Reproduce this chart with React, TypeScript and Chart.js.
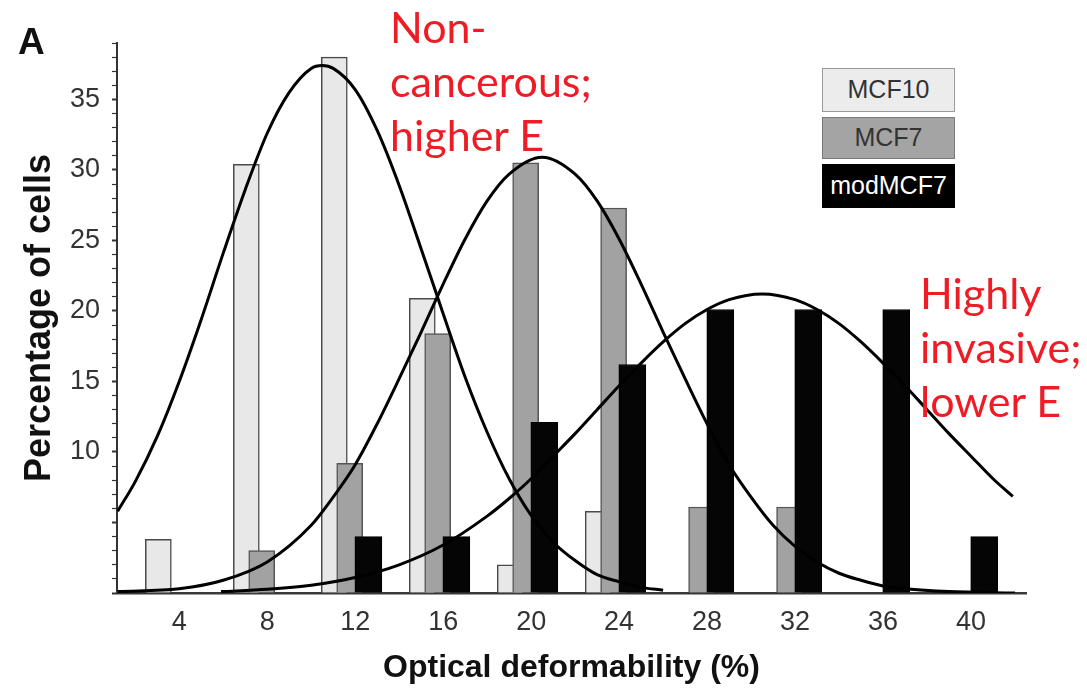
import React, { useEffect, useRef } from "react";
import { Chart, registerables } from "chart.js";

Chart.register(...registerables);

// ---------- data ----------
const BINS = [4, 8, 12, 16, 20, 24, 28, 32, 36, 40];
const MCF10 = [3.8, 30.4, 38.0, 20.9, 2.0, 5.8, null, null, null, null];
const MCF7 = [null, 3.0, 9.2, 18.4, 30.5, 27.3, 6.1, 6.1, null, null];
const MOD_MCF7 = [null, null, 4.0, 4.0, 12.1, 16.2, 20.1, 20.1, 20.1, 4.0];

const Y_TICK_LABELS = [10, 15, 20, 25, 30, 35];

// fitted curves
const FIT_MCF10_X = [1.2, 2, 3, 4, 5, 6, 7, 8, 9, 10, 10.5, 11, 12, 13, 14, 15, 16, 17, 18, 19, 20, 21, 22, 23, 24, 25, 26];
const FIT_MCF10_Y = [5.8, 7.9, 11.1, 15.0, 19.4, 24.1, 28.6, 32.6, 35.5, 37.2, 37.4, 37.2, 35.7, 32.8, 28.9, 24.4, 19.8, 15.3, 11.4, 8.1, 5.5, 3.6, 2.3, 1.3, 0.8, 0.4, 0.2];

const FIT_MCF7_X = [1.2, 4, 6, 8, 10, 11, 12, 13, 14, 15, 16, 17, 18, 19, 20.5, 22, 23, 24, 25, 26, 27, 28, 29, 30, 31, 32, 33, 34, 35, 36, 37, 39, 42];
const FIT_MCF7_Y = [0.1, 0.3, 0.9, 2.2, 4.8, 6.8, 9.1, 12.0, 15.2, 18.5, 21.9, 25.1, 27.8, 29.7, 30.9, 29.7, 27.8, 25.1, 21.9, 18.5, 15.2, 12.0, 9.1, 6.8, 4.8, 3.3, 2.2, 1.4, 0.9, 0.5, 0.3, 0.1, 0.0];

const FIT_MOD_X = [5.9, 8, 10, 12, 14, 16, 18, 19, 20, 21, 22, 23, 24, 25, 26, 27, 28, 29, 30.5, 32, 33, 34, 35, 36, 37, 38, 39, 40, 41, 41.9];
const FIT_MOD_Y = [0.1, 0.26, 0.55, 1.1, 2.0, 3.4, 5.45, 6.7, 8.1, 9.7, 11.3, 13.0, 14.7, 16.3, 17.8, 19.1, 20.1, 20.8, 21.2, 20.8, 20.1, 19.1, 17.8, 16.3, 14.7, 13.0, 11.3, 9.7, 8.1, 6.85];

// ---------- styling ----------
const SANS = '"Liberation Sans", Arial, Helvetica, sans-serif';
const RED_FONT = 'Lato, "Open Sans", sans-serif';
const RED = "#ee1c25";
// horizontal shift of each series inside its bin (axis units)
const OFFSET_MCF10 = -0.95;
const OFFSET_MCF7 = -0.25;
const OFFSET_MOD = 0.6;

function barPoints(values: (number | null)[], offset: number) {
  const pts: { x: number; y: number }[] = [];
  BINS.forEach((b, i) => {
    const v = values[i];
    if (v !== null && v !== undefined) pts.push({ x: b + offset, y: v });
  });
  return pts;
}

function curvePoints(xs: number[], ys: number[]) {
  return xs.map((x, i) => ({ x, y: ys[i] }));
}

export default function App() {
  const canvasRef = useRef<HTMLCanvasElement | null>(null);

  useEffect(() => {
    const canvas = canvasRef.current;
    if (!canvas) return;

    const curveStyle = {
      type: "line" as const,
      borderColor: "#000",
      borderWidth: 3,
      pointRadius: 0,
      fill: false,
      cubicInterpolationMode: "monotone" as const,
      order: 1,
    };

    const chart = new Chart(canvas, {
      type: "bar",
      data: {
        datasets: [
          {
            type: "bar",
            label: "MCF10",
            data: barPoints(MCF10, OFFSET_MCF10),
            backgroundColor: "#e8e8e8",
            borderColor: "#4a4a4a",
            borderWidth: 1.5,
            barThickness: 26,
            grouped: false,
            order: 12,
          },
          {
            type: "bar",
            label: "MCF7",
            data: barPoints(MCF7, OFFSET_MCF7),
            backgroundColor: "#a2a2a2",
            borderColor: "#555",
            borderWidth: 1.5,
            barThickness: 26,
            grouped: false,
            order: 11,
          },
          {
            type: "bar",
            label: "modMCF7",
            data: barPoints(MOD_MCF7, OFFSET_MOD),
            backgroundColor: "#050505",
            borderColor: "#000",
            borderWidth: 1,
            barThickness: 27,
            grouped: false,
            order: 10,
          },
          { ...curveStyle, label: "fit MCF10", data: curvePoints(FIT_MCF10_X, FIT_MCF10_Y) },
          { ...curveStyle, label: "fit MCF7", data: curvePoints(FIT_MCF7_X, FIT_MCF7_Y) },
          { ...curveStyle, label: "fit modMCF7", data: curvePoints(FIT_MOD_X, FIT_MOD_Y) },
        ] as any,
      },
      options: {
        animation: false,
        responsive: false,
        maintainAspectRatio: false,
        layout: { padding: { top: 43, right: 61, left: 0, bottom: 0 } },
        plugins: {
          legend: { display: false },
          tooltip: { enabled: false },
        },
        scales: {
          x: {
            type: "linear",
            offset: false,
            min: 1.17,
            max: 42.5,
            afterBuildTicks: (s: any) => {
              s.ticks = BINS.map((v) => ({ value: v }));
            },
            afterFit: (s: any) => {
              s.height = 100;
            },
            grid: { display: false },
            border: { display: true, color: "#3a3a3a", width: 2.5 },
            ticks: {
              autoSkip: false,
              maxRotation: 0,
              padding: 5,
              color: "#333",
              font: { family: SANS, size: 27 },
              callback: (v: any) => String(v),
            },
            title: {
              display: true,
              text: "Optical deformability (%)",
              color: "#111",
              font: { family: SANS, size: 32, weight: "bold" },
              padding: { top: 0, bottom: 6 },
            },
          },
          y: {
            type: "linear",
            min: 0,
            max: 39,
            afterBuildTicks: (s: any) => {
              const t: { value: number }[] = [];
              for (let v = 0; v <= 39; v++) t.push({ value: v });
              s.ticks = t;
            },
            afterFit: (s: any) => {
              s.width = 117;
            },
            grid: {
              display: true,
              drawOnChartArea: false,
              drawTicks: true,
              tickLength: 5,
              color: "#333",
              tickWidth: (ctx: any) => (ctx.tick && ctx.tick.value % 5 === 0 ? 2 : 1.2),
            },
            border: { display: true, color: "#333", width: 2 },
            ticks: {
              autoSkip: false,
              padding: 12,
              color: "#333",
              font: { family: SANS, size: 27 },
              callback: (v: any) => (Y_TICK_LABELS.includes(Number(v)) ? String(v) : ""),
            },
            title: {
              display: true,
              text: "Percentage of cells",
              color: "#111",
              font: { family: SANS, size: 36, weight: "bold" },
              padding: { top: 18, bottom: 0 },
            },
          },
        },
      } as any,
    });

    return () => chart.destroy();
  }, []);

  const legendBox = (top: number, height: number, bg: string, border: string, color: string, text: string) => (
    <div
      style={{
        position: "absolute",
        left: 822,
        top,
        width: 133,
        height,
        boxSizing: "border-box",
        background: bg,
        border: `1.5px solid ${border}`,
        color,
        fontFamily: SANS,
        fontSize: 25,
        lineHeight: `${height - 3}px`,
        textAlign: "center",
        whiteSpace: "nowrap",
      }}
    >
      {text}
    </div>
  );

  const redText: React.CSSProperties = {
    position: "absolute",
    color: RED,
    fontFamily: RED_FONT,
    fontSize: 43,
    lineHeight: "54px",
    whiteSpace: "pre",
  };

  return (
    <div
      style={{
        position: "fixed",
        left: 0,
        top: 0,
        width: 1087,
        height: 693,
        background: "#fff",
        overflow: "hidden",
      }}
    >
      <canvas ref={canvasRef} width={1087} height={693} style={{ position: "absolute", left: 0, top: 0, width: 1087, height: 693 }} />
      <div
        style={{
          position: "absolute",
          left: 18,
          top: 23,
          fontFamily: SANS,
          fontWeight: "bold",
          fontSize: 37,
          lineHeight: "37px",
          color: "#111",
        }}
      >
        A
      </div>
      {legendBox(68, 44, "#ececec", "#9a9a9a", "#333", "MCF10")}
      {legendBox(117, 42, "#a4a4a4", "#7a7a7a", "#333", "MCF7")}
      {legendBox(164, 44, "#000", "#000", "#fff", "modMCF7")}
      <div style={{ ...redText, left: 390, top: 0 }}>{"Non-\ncancerous;\nhigher E"}</div>
      <div style={{ ...redText, left: 920, top: 266 }}>{"Highly\ninvasive;\nlower E"}</div>
    </div>
  );
}
